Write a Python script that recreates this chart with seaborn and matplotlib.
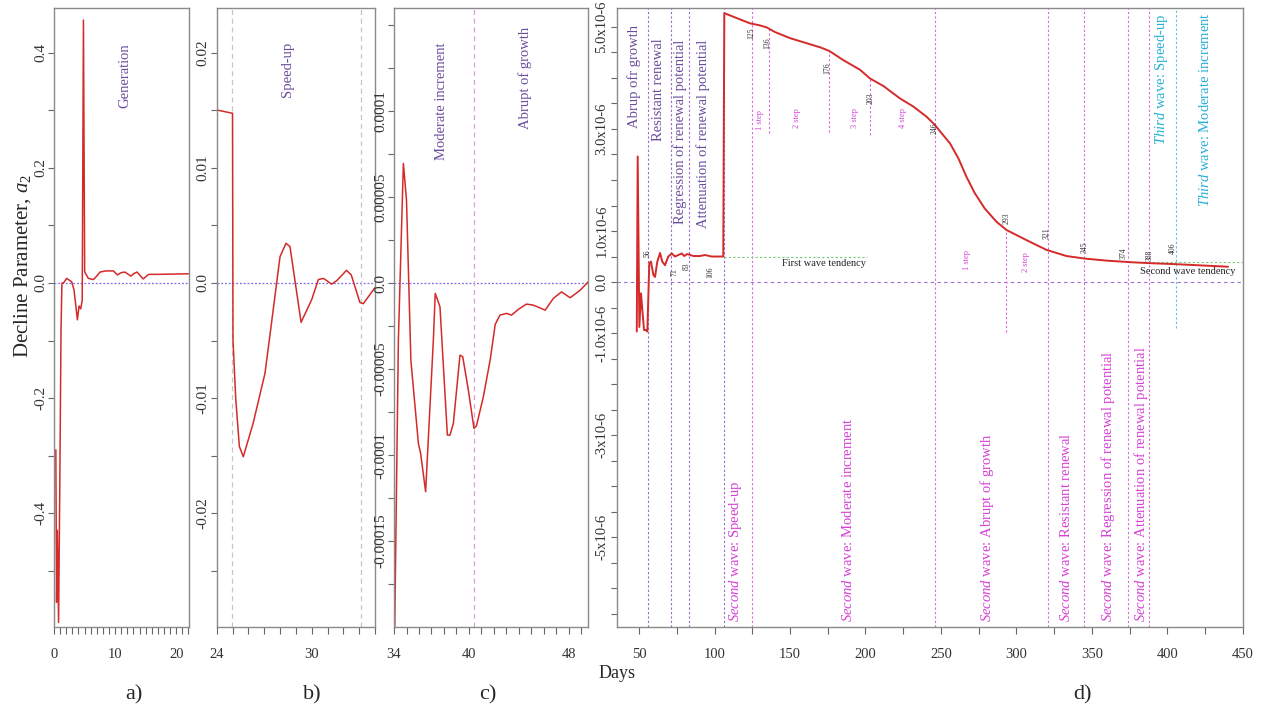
import numpy as np
import pandas as pd
import matplotlib
matplotlib.use("Agg")
import matplotlib.pyplot as plt
import seaborn as sns
from matplotlib.ticker import FixedLocator, FixedFormatter

sns.set_style("ticks")
plt.rcParams['font.family'] = ['Liberation Serif', 'DejaVu Serif']
plt.rcParams['mathtext.fontset'] = 'custom'
plt.rcParams['mathtext.rm'] = 'Liberation Serif'
plt.rcParams['mathtext.it'] = 'Liberation Serif:italic'

# ---------------- data ----------------
a_days = [0.30, 0.42, 0.55, 0.75, 0.95, 1.15, 1.30, 1.55, 2.08, 2.50, 2.90, 3.28, 3.83, 4.10,
          4.37, 4.62, 4.82, 5.02, 5.14, 5.63, 6.45, 7.00, 7.54, 8.50, 9.72, 10.40, 11.00,
          11.60, 12.60, 13.00, 13.60, 14.60, 15.50, 16.80, 22.10]
a_vals = [-0.29, -0.555, -0.43, -0.59, -0.35, -0.08, 0.0, 0.0, 0.008, 0.005, 0.002, -0.012,
          -0.064, -0.04, -0.045, -0.03, 0.457, 0.02, 0.017, 0.008, 0.006, 0.012, 0.019, 0.021,
          0.021, 0.014, 0.018, 0.019, 0.012, 0.016, 0.019, 0.007, 0.015, 0.015, 0.016]

b_days = [24.0, 25.0, 25.03, 25.2, 25.43, 25.68, 26.3, 27.05, 27.32, 28.0, 28.38, 28.63,
          29.33, 30.0, 30.42, 30.75, 31.26, 31.58, 32.2, 32.5, 33.05, 33.26, 34.0]
b_vals = [0.01504, 0.01475, -0.005, -0.010, -0.0142, -0.0151, -0.0122, -0.00785, -0.005,
          0.00229, 0.00345, 0.00316, -0.00342, -0.00145, 0.0003, 0.0004, -0.0001, 0.0002,
          0.0011, 0.0007, -0.0017, -0.0018, -0.0004]

c_days = [34.05, 34.35, 34.75, 35.0, 35.35, 35.95, 36.13, 36.53, 37.15, 37.3, 37.45, 37.68,
          38.27, 38.48, 38.75, 39.28, 39.5, 39.95, 40.4, 40.6, 41.15, 41.7, 42.1, 42.48, 43.0,
          43.4, 44.0, 44.6, 45.15, 46.1, 46.75, 47.4, 48.1, 48.9, 49.55]
c_vals_e5 = [-20.5, -3.3, 6.96, 4.83, -4.48, -9.32, -9.9, -12.13, -3.31, -0.6, -0.9, -1.38,
             -8.84, -8.84, -8.16, -4.19, -4.28, -6.22, -8.45, -8.3, -6.61, -4.45, -2.4, -1.86,
             -1.76, -1.86, -1.5, -1.22, -1.28, -1.57, -0.89, -0.51, -0.85, -0.41, 0.08]

d_days = [48.5, 49.1, 50.2, 51.3, 52.2, 53.3, 54.4, 55.5, 56.8, 57.9, 59.5, 60.6, 62.1, 63.9,
          65.4, 67.2, 69.4, 71.7, 73.8, 76.0, 78.3, 80.0, 82.0, 86.0, 90.4, 93.7, 98.1, 104.8,
          105.8, 106.5, 115.0, 123.5, 130.0, 134.6, 140.0, 150.0, 161.1, 170.0, 176.0, 185.3,
          196.4, 203.0, 212.0, 222.8, 231.7, 240.5, 246.0, 251.5, 256.0, 261.5, 267.0, 272.5,
          279.1, 286.9, 293.5, 306.8, 320.0, 333.2, 345.4, 359.7, 375.2, 388.4, 406.1, 440.3]
d_vals_e6 = [-0.97, 2.46, -0.88, -0.22, -0.55, -0.94, -0.94, -0.97, 0.37, 0.40, 0.14, 0.10,
             0.40, 0.57, 0.40, 0.33, 0.50, 0.56, 0.50, 0.53, 0.56, 0.51, 0.55, 0.51, 0.51, 0.53,
             0.50, 0.50, 0.50, 5.27, 5.17, 5.07, 5.03, 4.99, 4.90, 4.78, 4.68, 4.60, 4.53, 4.35,
             4.16, 3.99, 3.84, 3.60, 3.44, 3.24, 3.08, 2.88, 2.72, 2.43, 2.06, 1.74, 1.44, 1.18,
             1.02, 0.82, 0.63, 0.51, 0.46, 0.42, 0.39, 0.37, 0.35, 0.30]

first_wave_days = [56, 71, 83, 106]
second_wave_full = [125, 246, 321, 345, 374, 388]
short_lines = [(136, 4.97, 2.92), (176, 4.53, 2.94), (203, 3.99, 2.88), (293, 1.02, -0.98)]
day_labels = [("56", 55.8, 0.57), ("71", 73.2, 0.2), ("83", 81.8, 0.31), ("106", 97.0, 0.2),
              ("125", 124.2, 4.88), ("136", 134.8, 4.69), ("176", 174.5, 4.2),
              ("203", 203.6, 3.61), ("246", 246.0, 3.02), ("293", 293.7, 1.25),
              ("321", 320.2, 0.96), ("345", 345.4, 0.69), ("374", 371.2, 0.57),
              ("388", 388.4, 0.53), ("406", 403.6, 0.67)]
step_labels = [("1 step", 130.1, 3.18), ("2 step", 154.6, 3.22), ("3 step", 193.0, 3.22),
               ("4 step", 224.8, 3.22), ("1 step", 267.2, 0.43), ("2 step", 306.3, 0.39)]
first_stage_texts = [("Abrup ofr growth", 46.7, 5.04), ("Resistant renewal", 62.6, 4.78),
                     ("Regression of renewal potential", 77.2, 4.75),
                     ("Attenuation of renewal potential", 92.4, 4.75)]
second_stage_texts = [("Speed-up", 114.0), ("Moderate increment", 188.6),
                      ("Abrupt of growth", 280.3), ("Resistant renewal", 333.2),
                      ("Regression of renewal potential", 360.6),
                      ("Attenuation of renewal potential", 382.5)]
third_stage_texts = [("Speed-up", 396.2, 5.27), ("Moderate increment", 424.8, 5.29)]

# ---------------- styling constants ----------------
RED = '#d42a2a'
PURPLE = '#6a4c9c'
MAGENTA = '#d63fd6'
CYAN = '#27aed6'
SPINE = '#8a8a8a'

fig = plt.figure(figsize=(12.66, 7.10), dpi=100)
bot, hgt = 0.1169, 0.8718
ax_a = fig.add_axes([0.04265, bot, 0.10664, hgt])
ax_b = fig.add_axes([0.17117, bot, 0.12504, hgt])
ax_c = fig.add_axes([0.31122, bot, 0.15348, hgt])
ax_d = fig.add_axes([0.48713, bot, 0.49471, hgt])


def style(ax, ysize=11):
    for s in ax.spines.values():
        s.set_visible(True)
        s.set_color(SPINE)
        s.set_linewidth(1.0)
    ax.tick_params(axis='both', which='both', colors='#666666', labelcolor='#333333',
                   direction='out', top=False, right=False)
    ax.tick_params(axis='x', which='both', length=5, pad=10, labelsize=10.5)
    ax.tick_params(axis='y', which='both', length=4, pad=1, labelsize=ysize, labelrotation=90)
    ax.set_xlabel('')
    ax.set_ylabel('')
    ax.grid(False)


def set_ticks(ax, axis, positions, labels):
    a = ax.xaxis if axis == 'x' else ax.yaxis
    a.set_major_locator(FixedLocator(positions))
    a.set_major_formatter(FixedFormatter(labels))


zero_kw = dict(color='#7b68ee', ls=(0, (1.5, 1.5)), lw=0.9, zorder=1)

# ---------------- panel a ----------------
dfa = pd.DataFrame({'day': a_days, 'val': a_vals})
sns.lineplot(data=dfa, x='day', y='val', ax=ax_a, color=RED, lw=1.1, sort=False, estimator=None)
ax_a.axhline(0, **zero_kw)
ax_a.set_xlim(0, 22.1)
ax_a.set_ylim(-0.598, 0.478)
style(ax_a)
xa = np.arange(0, 23, 1)
set_ticks(ax_a, 'x', xa, [str(int(v)) if v % 10 == 0 else '' for v in xa])
ya_idx = np.arange(-5, 5)
ya_lab = {-4: '-0.4', -2: '-0.2', 0: '0.0', 2: '0.2', 4: '0.4'}
set_ticks(ax_a, 'y', ya_idx * 0.1, [ya_lab.get(int(k), '') for k in ya_idx])
ax_a.text(11.6, 0.417, 'Generation', rotation=90, ha='center', va='top', color=PURPLE, fontsize=10.5)

# ---------------- panel b ----------------
dfb = pd.DataFrame({'day': b_days, 'val': b_vals})
sns.lineplot(data=dfb, x='day', y='val', ax=ax_b, color=RED, lw=1.1, sort=False, estimator=None)
ax_b.axhline(0, **zero_kw)
for xv in (24.99, 33.1):
    ax_b.axvline(xv, color='#c8c4c8', ls=(0, (4, 3)), lw=0.9, zorder=1)
ax_b.set_xlim(24, 34)
ax_b.set_ylim(-0.0299, 0.0239)
style(ax_b)
xb = np.arange(24, 35, 1)
set_ticks(ax_b, 'x', xb, [str(int(v)) if v in (24, 30) else '' for v in xb])
yb_idx = np.arange(-5, 5)
yb_lab = {-4: '-0.02', -2: '-0.01', 0: '0.0', 2: '0.01', 4: '0.02'}
set_ticks(ax_b, 'y', yb_idx * 0.005, [yb_lab.get(int(k), '') for k in yb_idx])
ax_b.text(28.5, 0.021, 'Speed-up', rotation=90, ha='center', va='top', color=PURPLE, fontsize=10.5)

# ---------------- panel c ----------------
dfc = pd.DataFrame({'day': c_days, 'val': np.array(c_vals_e5) * 1e-5})
sns.lineplot(data=dfc, x='day', y='val', ax=ax_c, color=RED, lw=1.1, sort=False, estimator=None)
ax_c.axhline(0, **zero_kw)
ax_c.axvline(40.4, color='#d8a0d8', ls=(0, (4, 3)), lw=0.9, zorder=1)
ax_c.set_xlim(34, 49.55)
ax_c.set_ylim(-2.0e-4, 1.6e-4)
style(ax_c)
xc = np.arange(34, 50, 1)
set_ticks(ax_c, 'x', xc, [str(int(v)) if v in (34, 40, 48) else '' for v in xc])
yc_idx = np.arange(-7, 7)
yc_lab = {-6: '-0.00015', -4: '-0.0001', -2: '-0.00005', 0: '0.0', 2: '0.00005', 4: '0.0001'}
set_ticks(ax_c, 'y', yc_idx * 2.5e-5, [yc_lab.get(int(k), '') for k in yc_idx])
ax_c.text(37.8, 14.0e-5, 'Moderate increment', rotation=90, ha='center', va='top', color=PURPLE, fontsize=10.5)
ax_c.text(44.5, 14.9e-5, 'Abrupt of growth', rotation=90, ha='center', va='top', color=PURPLE, fontsize=10.5)

# ---------------- panel d ----------------
E6 = 1e-6
dfd = pd.DataFrame({'day': d_days, 'val': np.array(d_vals_e6) * E6})
ax_d.axhline(0, color='#9a6fd0', ls=(0, (3, 3)), lw=0.8, zorder=1)
for xv in first_wave_days:
    ax_d.axvline(xv, color='#9966cc', ls=(0, (2, 2)), lw=0.8, zorder=1)
for xv in second_wave_full:
    ax_d.axvline(xv, color='#dd66dd', ls=(0, (2, 2)), lw=0.8, zorder=1)
for xv, y0, y1 in short_lines:
    ax_d.vlines(xv, y1 * E6, y0 * E6, color='#dd66dd', ls=(0, (2, 2)), lw=0.8, zorder=1)
ax_d.vlines(406, -0.9 * E6, 5.4 * E6, color='#55c8d8', ls=(0, (2, 2)), lw=0.8, zorder=1)
ax_d.hlines(0.49 * E6, 106, 201, color='#77cc77', ls=(0, (2, 2)), lw=0.8, zorder=1)
ax_d.hlines(0.39 * E6, 375, 450, color='#77cc77', ls=(0, (2, 2)), lw=0.8, zorder=1)
sns.lineplot(data=dfd, x='day', y='val', ax=ax_d, color=RED, lw=1.4, sort=False, estimator=None, zorder=3)
ax_d.set_xlim(35.2, 450.2)
ax_d.set_ylim(-6.76 * E6, 5.37 * E6)
style(ax_d, ysize=10.5)
ax_d.tick_params(axis='y', which='both', pad=2)
xd = np.arange(50, 451, 25)
set_ticks(ax_d, 'x', xd, [str(int(v)) if v % 50 == 0 else '' for v in xd])
yd_idx = np.arange(-13, 11)
yd_lab = {10: '5.0x10-6', 6: '3.0x10-6', 2: '1.0x10-6', 0: '0.0',
          -2: '-1.0x10-6', -6: '-3x10-6', -10: '-5x10-6'}
set_ticks(ax_d, 'y', yd_idx * 0.5 * E6, [yd_lab.get(int(k), '') for k in yd_idx])

for txt, xv, yv in first_stage_texts:
    ax_d.text(xv, yv * E6, txt, rotation=90, ha='center', va='top', color=PURPLE, fontsize=10.5)
for txt, xv in second_stage_texts:
    ax_d.text(xv, -6.67 * E6, r'$\mathit{Second}$ wave: ' + txt, rotation=90, ha='center',
              va='bottom', color=MAGENTA, fontsize=10.5)
for txt, xv, yv in third_stage_texts:
    ax_d.text(xv, yv * E6, r'$\mathit{Third}$ wave: ' + txt, rotation=90, ha='center',
              va='top', color=CYAN, fontsize=10.5)
for txt, xv, yv in day_labels:
    ax_d.text(xv, yv * E6, txt, rotation=90, ha='center', va='center', color='#333333', fontsize=5.5)
for txt, xv, yv in step_labels:
    ax_d.text(xv, yv * E6, txt, rotation=90, ha='center', va='center', color=MAGENTA, fontsize=6)
ax_d.text(172.5, 0.37 * E6, 'First wave tendency', ha='center', va='center', fontsize=7.5, color='#222222')
ax_d.text(413.3, 0.20 * E6, 'Second wave tendency', ha='center', va='center', fontsize=7.5, color='#222222')

for ax in (ax_a, ax_b, ax_c, ax_d):
    for lab in ax.get_yticklabels():
        lab.set_verticalalignment('center')

# ---------------- figure texts ----------------
fig.text(0.018, 0.625, 'Decline Parameter, $a_2$', rotation=90, ha='center', va='center', fontsize=15)
fig.text(617 / 1266, 1 - 673 / 710, 'Days', ha='center', va='center', fontsize=13)
for lab, px in (('a)', 134), ('b)', 312), ('c)', 488), ('d)', 1083)):
    fig.text(px / 1266, 1 - 695 / 710, lab, ha='center', va='center', fontsize=16)

fig.savefig('out.png', dpi=100)
